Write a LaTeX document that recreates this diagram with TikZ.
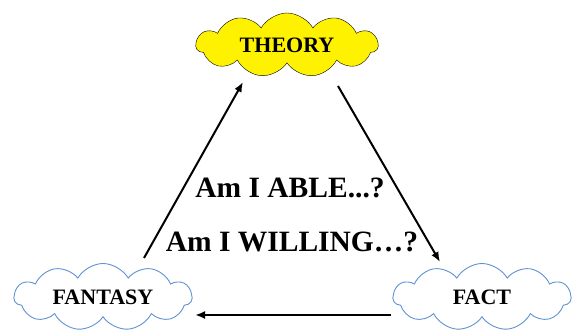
\documentclass[tikz,border=0pt]{standalone}
\usepackage{fontspec}
\setmainfont{Liberation Serif}
\usetikzlibrary{shapes.symbols,arrows.meta}
\definecolor{cloudblue}{RGB}{96,146,210}

\begin{document}
\begin{tikzpicture}[x=1pt,y=-1pt,
  cloudbox/.style={cloud, cloud puffs=11, cloud puff arc=120, cloud ignores aspect,
    inner sep=0pt, font=\fontsize{22}{24}\selectfont\bfseries},
  question/.style={font=\fontsize{29.5}{32}\selectfont\bfseries},
  link/.style={line width=2pt, -{Latex[length=10pt,width=8pt]}}]
\useasboundingbox (0,0) rectangle (572,336);
\node[cloudbox, draw=black, fill=yellow, thin, minimum width=182pt, minimum height=64pt] (theory) at (287,45) {THEORY};
\node[cloudbox, draw=cloudblue, fill=white, line width=0.9pt, minimum width=178pt, minimum height=67pt] (fantasy) at (103,297) {FANTASY};
\node[cloudbox, draw=cloudblue, fill=white, line width=0.9pt, minimum width=178pt, minimum height=67pt] (fact) at (482,297) {FACT};
\node[question] (able) at (290,188) {Am I ABLE...?};
\node[question] (willing) at (292,242) {Am I WILLING\ldots?};
\coordinate (fantasyout) at (144,258);
\coordinate (theoryin) at (243,82);
\coordinate (theoryout) at (338,86);
\coordinate (factin) at (440,262);
\coordinate (factout) at (391,315);
\coordinate (fantasyin) at (195,315);
\draw[link] (fantasyout) -- (theoryin);
\draw[link] (theoryout) -- (factin);
\draw[link] (factout) -- (fantasyin);
\end{tikzpicture}
\end{document}
